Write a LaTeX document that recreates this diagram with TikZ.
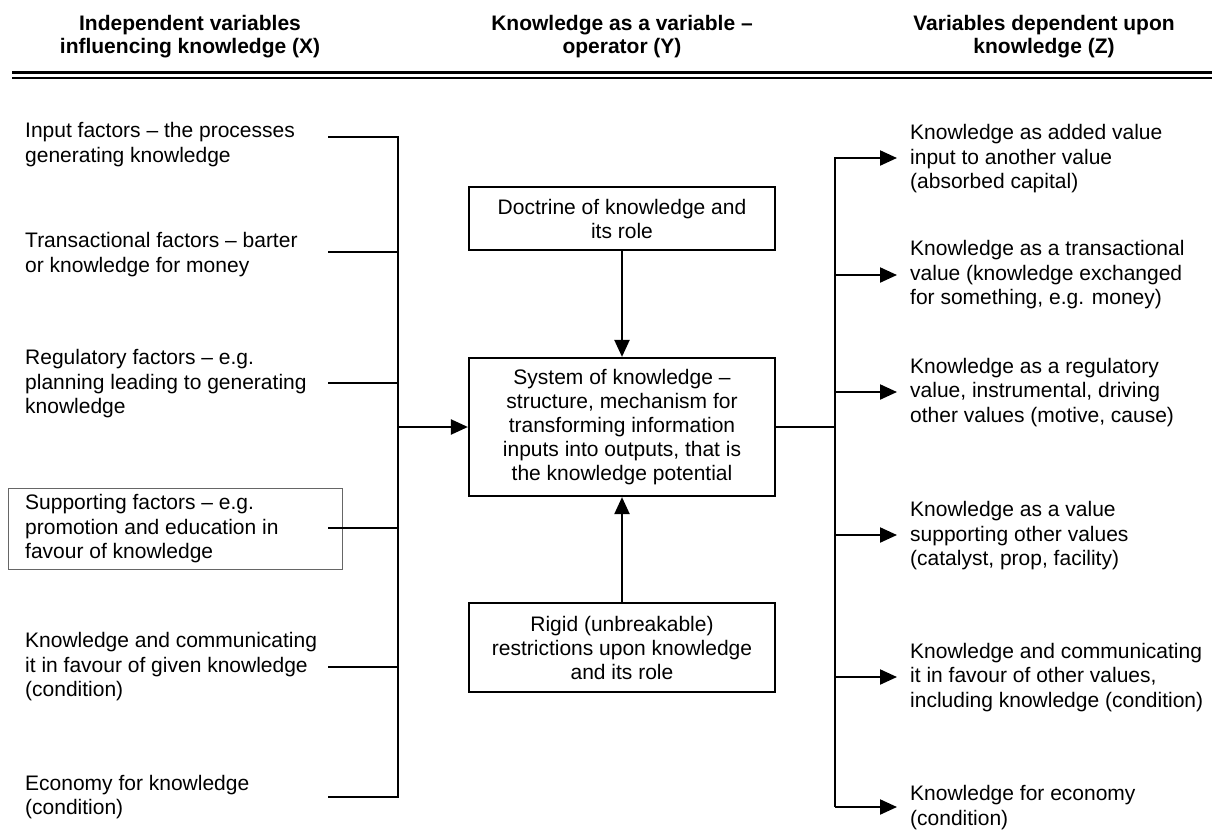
\documentclass[tikz,border=0pt]{standalone}
\usepackage{fontspec}
\setmainfont{Liberation Sans}
\usetikzlibrary{arrows.meta}
\begin{document}
\begin{tikzpicture}[x=1pt,y=-1pt,
  txt/.style={font=\fontsize{21}{24.5}\selectfont, inner sep=0pt, align=left, anchor=west},
  head/.style={font=\fontsize{21}{23.5}\selectfont\bfseries, inner sep=0pt, align=center},
  cbox/.style={draw, line width=2.2pt, font=\fontsize{21}{24}\selectfont, align=center, inner sep=0pt, minimum width=306pt},
  conn/.style={line width=2.2pt},
  arr/.style={line width=2.2pt, -{Triangle[length=17pt,width=15pt]}}]
\useasboundingbox (0,0) rectangle (1221,830);
% headings
\node[head] (h1) at (190,36.5) {Independent variables\\influencing knowledge (X)};
\node[head] (h2) at (622,36.5) {Knowledge as a variable --\\operator (Y)};
\node[head] (h3) at (1044,36.5) {Variables dependent upon\\knowledge (Z)};
\coordinate (ra) at (12,72); \coordinate (rb) at (1212,72);
\coordinate (rc) at (12,77.5); \coordinate (rd) at (1212,77.5);
\draw[line width=3pt] (ra) -- (rb);
\draw[line width=2pt] (rc) -- (rd);
% left items
\node[txt] (l1) at (25,144.5) {Input factors -- the processes\\generating knowledge};
\node[txt] (l2) at (25,254.5) {Transactional factors -- barter\\or knowledge for money};
\node[txt] (l3) at (25,384) {Regulatory factors -- e.g.\\planning leading to generating\\knowledge};
\node[txt] (l4) at (25,529) {Supporting factors -- e.g.\\promotion and education in\\favour of knowledge};
\node[txt] (l5) at (25,667) {Knowledge and communicating\\it in favour of given knowledge\\(condition)};
\node[txt] (l6) at (25,797) {Economy for knowledge\\(condition)};
\coordinate (sbA) at (8,488); \coordinate (sbB) at (342,569);
\draw[line width=1pt, black!60] (sbA) rectangle (sbB);
% left connectors
\coordinate (c1) at (328,137); \coordinate (b1) at (398,137);
\coordinate (c2) at (328,252); \coordinate (b2) at (398,252);
\coordinate (c3) at (328,383); \coordinate (b3) at (398,383);
\coordinate (c4) at (328,528); \coordinate (b4) at (398,528);
\coordinate (c5) at (328,667); \coordinate (b5) at (398,667);
\coordinate (c6) at (328,797); \coordinate (b6) at (398,797);
\coordinate (bm) at (398,427);
\draw[conn] (c2) -- (b2); \draw[conn] (c3) -- (b3);
\draw[conn] (c4) -- (b4); \draw[conn] (c5) -- (b5);
\draw[conn] (c1) -- (b1) -- (b6) -- (c6);
% centre boxes
\node[cbox, minimum height=63pt] (doc) at (622,218.5) {Doctrine of knowledge and\\its role};
\node[cbox, minimum height=138pt] (sys) at (622,427) {System of knowledge --\\structure, mechanism for\\transforming information\\inputs into outputs, that is\\the knowledge potential};
\node[cbox, minimum height=89pt] (rig) at (622,647.5) {Rigid (unbreakable)\\restrictions upon knowledge\\and its role};
\draw[arr] (bm) -- (sys.west);
\draw[arr] (doc.south) -- (sys.north);
\draw[arr] (rig.north) -- (sys.south);
% right side
\coordinate (rm) at (835,427);
\coordinate (r1) at (835,158); \coordinate (r2) at (835,275); \coordinate (r3) at (835,392);
\coordinate (r4) at (835,535); \coordinate (r5) at (835,677); \coordinate (r6) at (835,807);
\coordinate (e1) at (897,158); \coordinate (e2) at (897,275); \coordinate (e3) at (897,392);
\coordinate (e4) at (897,535); \coordinate (e5) at (897,677); \coordinate (e6) at (897,807);
\draw[conn] (sys.east) -- (rm);
\draw[arr] (r6) -- (r1) -- (e1);
\draw[arr] (r6) -- (e6);
\draw[arr] (r2) -- (e2);
\draw[arr] (r3) -- (e3);
\draw[arr] (r4) -- (e4);
\draw[arr] (r5) -- (e5);
\node[txt] (z1) at (910,159) {Knowledge as added value\\input to another value\\(absorbed capital)};
\node[txt] (z2) at (910,275) {Knowledge as a transactional\\value (knowledge exchanged\\for something, e.g. money)};
\node[txt] (z3) at (910,392.5) {Knowledge as a regulatory\\value, instrumental, driving\\other values (motive, cause)};
\node[txt] (z4) at (910,536) {Knowledge as a value\\supporting other values\\(catalyst, prop, facility)};
\node[txt] (z5) at (910,677.5) {Knowledge and communicating\\it in favour of other values,\\including knowledge (condition)};
\node[txt] (z6) at (910,807.5) {Knowledge for economy\\(condition)};
\end{tikzpicture}
\end{document}
